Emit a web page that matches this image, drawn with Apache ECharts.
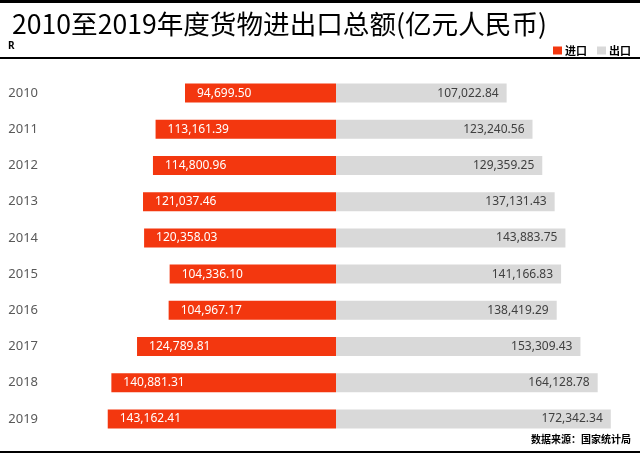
<!DOCTYPE html>
<html>
<head>
<meta charset="utf-8">
<script src="https://cdn.jsdelivr.net/npm/echarts@6/dist/echarts.min.js"></script>
<style>html,body{margin:0;padding:0;background:#fff;}#c{width:640px;height:456px;}</style>
</head>
<body>
<div id="c"></div>
<script>
var years = ['2010','2011','2012','2013','2014','2015','2016','2017','2018','2019'];
var importVals = [94699.50, 113161.39, 114800.96, 121037.46, 120358.03, 104336.10, 104967.17, 124789.81, 140881.31, 143162.41];
var exportVals = [107022.84, 123240.56, 129359.25, 137131.43, 143883.75, 141166.83, 138419.29, 153309.43, 164128.78, 172342.34];
var titleText = '2010至2019年度货物进出口总额(亿元人民币)';
var sourceText = '数据来源：国家统计局';

function fmt(v){
  return Math.abs(v).toLocaleString('en-US',{minimumFractionDigits:2,maximumFractionDigits:2});
}
var numFont = '"Liberation Sans Narrow","Noto Sans",sans-serif';
var chart = echarts.init(document.getElementById('c'), null, {renderer:'canvas'});
chart.setOption({
  animation:false,
  backgroundColor:'#fff',
  graphic:[
    {type:'rect', shape:{x:0,y:0,width:640,height:3}, style:{fill:'#000'}},
    {type:'rect', shape:{x:0,y:57,width:640,height:2}, style:{fill:'#000'}},
    {type:'rect', shape:{x:0,y:451,width:640,height:2}, style:{fill:'#000'}},
    {type:'text', left:12, top:11, style:{text:titleText, font:'normal 26.6px "Noto Sans CJK SC", sans-serif', fill:'#000'}},
    {type:'text', left:8, top:41, style:{text:'R', font:'bold 10px "Noto Sans", sans-serif', fill:'#000'}},
    {type:'text', right:9, top:434, style:{text:sourceText, font:'bold 10px "Noto Sans CJK SC", sans-serif', fill:'#000'}}
  ],
  legend:{
    right:4, top:40,
    itemWidth:9, itemHeight:8, itemGap:10, icon:'rect',
    textStyle:{fontSize:11, fontWeight:'bold', color:'#000', fontFamily:'"Noto Sans CJK SC", sans-serif', padding:[0,0,0,-2]},
    data:['进口','出口']
  },
  grid:{left:49, right:17, top:75, height:362, containLabel:false},
  xAxis:{type:'value', min:-180000, max:180000, show:false},
  yAxis:{
    type:'category', data:years, inverse:true,
    axisLine:{show:false, onZero:false}, axisTick:{show:false},
    axisLabel:{margin:11, color:'#595959', fontSize:13, fontFamily:'"Noto Sans", sans-serif'}
  },
  series:[
    {
      name:'进口', type:'bar', stack:'t', barWidth:19,
      data: importVals.map(function(v){return -v;}),
      itemStyle:{color:'#F3370F'},
      label:{show:true, position:'insideLeft', distance:12, color:'#fff', fontSize:12, fontFamily:numFont,
        formatter:function(p){return fmt(p.value);}}
    },
    {
      name:'出口', type:'bar', stack:'t', barWidth:19,
      data: exportVals,
      itemStyle:{color:'#D9D9D9'},
      label:{show:true, position:'insideRight', distance:8, color:'#404040', fontSize:12, fontFamily:numFont,
        formatter:function(p){return fmt(p.value);}}
    }
  ]
});
</script>
</body>
</html>
